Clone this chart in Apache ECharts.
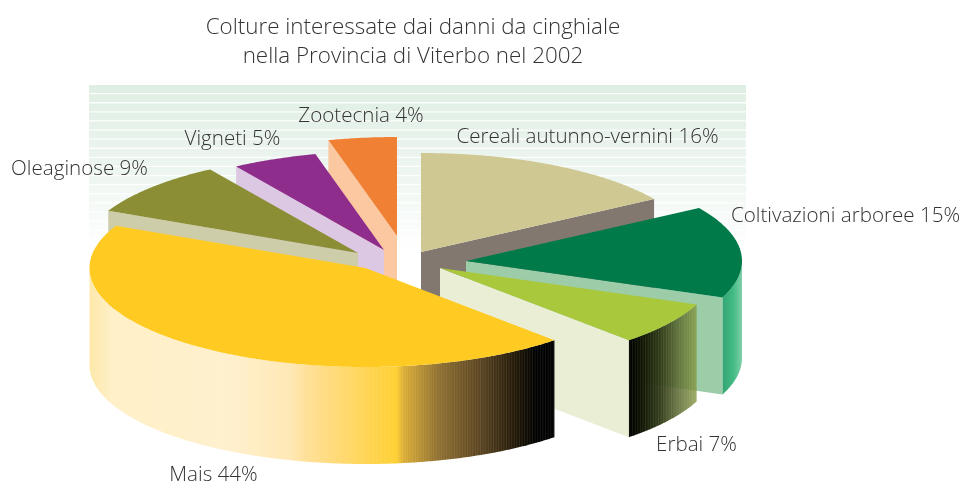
<!DOCTYPE html>
<html>
<head>
<meta charset="utf-8">
<style>html,body{margin:0;padding:0;background:#fff}#c{width:960px;height:484px}</style>
<script src="https://cdn.jsdelivr.net/npm/echarts@6/dist/echarts.min.js"></script>
</head>
<body>
<div id="c"></div>
<script>
// ---- data ----
var titleLines = ['Colture interessate dai danni da cinghiale', 'nella Provincia di Viterbo nel 2002'];
var categories = ['Cereali autunno-vernini', 'Coltivazioni arboree', 'Erbai', 'Mais', 'Oleaginose', 'Vigneti', 'Zootecnia'];
var percentages = [16, 15, 7, 44, 9, 5, 4];

// ---- styling / layout ----
var topColors  = ['#cfc892', '#007a48', '#a9c83c', '#ffcb22', '#8c8e35', '#8e2d8b', '#f08033'];
var faceColors = ['#82786f', '#9ccca8', '#e9eed5', '#e9eed5', '#cecdaa', '#dcc8e2', '#fbc8a2'];
var apexX = [421, 466, 440, 365.5, 358, 384, 397];
var apexY = [252, 261, 268, 268, 253, 250, 236];
var paintRank = [0, 4, 5, 6, 3, 2, 1];
var labelX = [587.5, 845.5, 696.5, 213.5, 79.5, 232.5, 361];
var labelY = [137, 216, 445, 475, 169, 139, 116];
var RX = 276, RY = 99, DEPTH = 97;
var FONT = '"Open Sans", sans-serif';
var TEXT = '#333333';

// Outer wall gradients, left-to-right in screen space
var wallStops = {
  1: [[0, '#35a573'], [0.55, '#43bb84'], [1, '#7fd0a8']],
  2: [[0, '#000000'], [0.15, '#0a0f00'], [0.45, 'rgba(40,50,15,0.95)'], [0.75, 'rgba(90,105,45,0.85)'], [1, 'rgba(130,150,60,0.8)']],
  3: [[0, '#fde8a8'], [0.05, '#fff0c6'], [0.3, '#fff0cd'], [0.43, '#ffe8b4'], [0.47, '#ffdf94'], [0.66, '#ffcf30'],
      [0.675, '#dcae35'], [0.75, '#8f7030'], [0.84, '#5a4420'], [0.92, '#1f1606'], [0.96, '#000000'], [1, '#000000']]
};
// Streak spacing on the shaded walls, px
var streakStep = { 2: 2.6, 3: 2.6 };

function pt(cx, cy, deg, dy) {
  var a = deg * Math.PI / 180;
  return [cx + RX * Math.sin(a), cy - RY * Math.cos(a) + (dy || 0)];
}
function arc(cx, cy, a0, a1, dy) {
  var pts = [], n = Math.max(2, Math.ceil(Math.abs(a1 - a0) * 2));
  for (var i = 0; i <= n; i++) pts.push(pt(cx, cy, a0 + (a1 - a0) * i / n, dy));
  return pts;
}

var startAngles = [], acc = 0;
percentages.forEach(function (p) { startAngles.push(acc); acc += p * 3.6; });

function renderSlice(params, api) {
  var i = params.dataIndex;
  var value = api.value(1);
  var a0 = startAngles[i], a1 = a0 + value * 3.6;
  var cx = apexX[i], cy = apexY[i], base = paintRank[i] * 10;
  var children = [];

  // Visible flat cut wall: end edge on the right half, start edge on the left half
  var cutAngle = a0 < 180 ? a1 : a0;
  if (i !== 3) {
    var p = pt(cx, cy, cutAngle);
    children.push({
      type: 'polygon', z2: base,
      shape: { points: [[cx, cy], p, [p[0], p[1] + DEPTH], [cx, cy + DEPTH]] },
      style: { fill: faceColors[i] }
    });
  }
  // Visible curved outer wall (only the side of the rim facing the viewer)
  if (wallStops[i]) {
    var w0 = Math.max(a0, 90), w1 = Math.min(a1, 270);
    var top = arc(cx, cy, w0, w1), bot = arc(cx, cy, w1, w0, DEPTH);
    var xs = top.map(function (q) { return q[0]; });
    var xMin = Math.min.apply(null, xs), xMax = Math.max.apply(null, xs);
    children.push({
      type: 'polygon', z2: base + 1,
      shape: { points: top.concat(bot) },
      style: {
        fill: new echarts.graphic.LinearGradient(xMin, 0, xMax, 0,
          wallStops[i].map(function (s) { return { offset: s[0], color: s[1] }; }), true)
      }
    });
    // Fine vertical streaks of the shaded rim
    if (streakStep[i]) {
      for (var x = xMin + 1; x < xMax; x += streakStep[i]) {
        var u = (x - cx) / RX;
        var h = RY * Math.sqrt(Math.max(0, 1 - u * u));
        children.push({
          type: 'line', z2: base + 1, silent: true,
          shape: { x1: x, y1: cy + h, x2: x, y2: cy + h + DEPTH },
          style: { stroke: 'rgba(255,255,255,0.13)', lineWidth: 0.7 }
        });
      }
    }
  }
  // Top face
  children.push({
    type: 'polygon', z2: base + 2,
    shape: { points: [[cx, cy]].concat(arc(cx, cy, a0, a1)) },
    style: { fill: topColors[i] }
  });
  // Label
  children.push({
    type: 'text', z2: 100,
    style: {
      x: labelX[i], y: labelY[i], text: api.value(0) + ' ' + value + '%',
      align: 'center', verticalAlign: 'middle',
      font: '300 20.6px ' + FONT, fill: TEXT
    }
  });
  return { type: 'group', children: children };
}

// Striped backdrop
var backdrop = [];
(function () {
  var x = 89, w = 657, y0 = 85, y1 = 250;
  backdrop.push({
    type: 'rect', z: -10, silent: true,
    shape: { x: x, y: y0, width: w, height: y1 - y0 },
    style: { fill: new echarts.graphic.LinearGradient(0, 0, 0, 1, [
      { offset: 0, color: '#dfeee3' }, { offset: 0.55, color: '#eef6f1' }, { offset: 1, color: '#ffffff' }
    ]) }
  });
  for (var y = 93; y < y1; y += 9.1) {
    backdrop.push({
      type: 'rect', z: -9, silent: true,
      shape: { x: x, y: y, width: w, height: 1.3 },
      style: { fill: 'rgba(255,255,255,0.9)' }
    });
  }
})();

var chart = echarts.init(document.getElementById('c'), null, { renderer: 'canvas' });
chart.setOption({
  animation: false,
  backgroundColor: '#ffffff',
  title: {
    text: titleLines.join('\n'), left: 408, top: 8, textAlign: 'center',
    textStyle: { fontFamily: FONT, fontWeight: 300, fontSize: 22.4, lineHeight: 29, color: TEXT }
  },
  graphic: backdrop,
  series: [{
    type: 'custom',
    coordinateSystem: 'none',
    renderItem: renderSlice,
    data: categories.map(function (c, i) { return [c, percentages[i]]; })
  }]
});
</script>
</body>
</html>
